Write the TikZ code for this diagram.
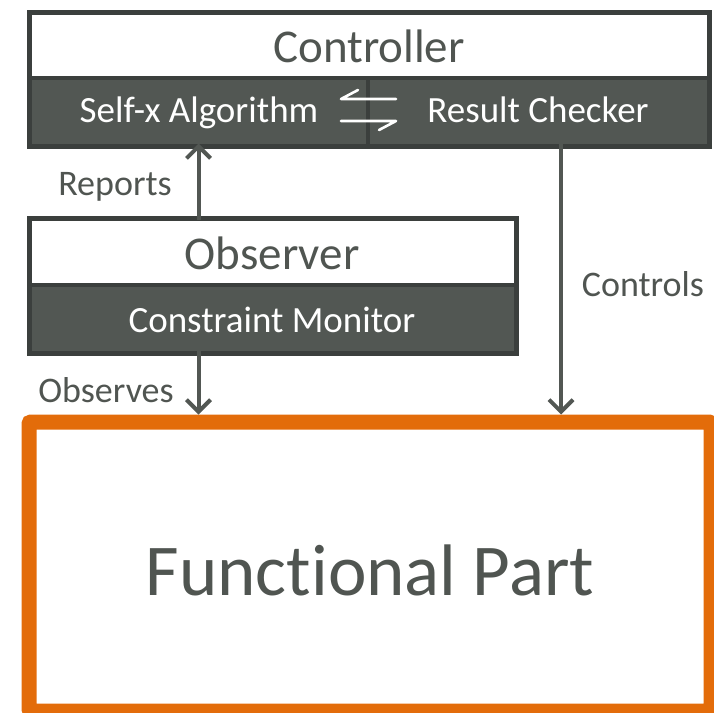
\documentclass[tikz,border=0pt]{standalone}
\usepackage{fontspec}
\setmainfont{Carlito}[Ligatures=NoCommon]
\usetikzlibrary{arrows.meta}

\definecolor{bandgray}{RGB}{82,87,83}
\definecolor{edgegray}{RGB}{59,63,61}
\definecolor{inkgray}{RGB}{80,85,81}
\definecolor{fporange}{RGB}{227,108,10}

\tikzset{
  part/.style={rectangle, inner sep=0pt, outer sep=0pt, draw=edgegray, line width=3.5pt},
  titlepart/.style={part, fill=white},
  bandpart/.style={part, fill=bandgray},
  titletext/.style={text=inkgray, font=\fontsize{47}{56}\selectfont, inner sep=0pt},
  bandtext/.style={text=white, font=\fontsize{37}{44}\selectfont, inner sep=0pt, anchor=base},
  frame/.style={draw=edgegray, line width=5pt},
  flow/.style={draw=bandgray, line width=4pt, -{Straight Barb[length=12pt, width=24pt, line width=4pt]}},
  flowlabel/.style={text=inkgray, font=\fontsize{36}{43}\selectfont, inner sep=0pt, anchor=base},
  swap/.style={draw=white, line width=2.6pt, line cap=round, line join=round},
  fpframe/.style={draw=fporange, line width=15pt, rounded corners=2pt},
}

\begin{document}
\begin{tikzpicture}[x=1pt, y=-1pt]
\useasboundingbox (0,0) rectangle (714,712);

% Controller: title band with two sub-blocks below
\node[titlepart, minimum width=680pt, minimum height=66pt, anchor=north west] (ctrl) at (29,12) {};
\node[titletext] (ctrltext) at (369,46) {Controller};
\node[bandpart, minimum width=339pt, minimum height=68pt, anchor=north west] (selfx) at (29,78) {};
\node[bandpart, minimum width=341pt, minimum height=68pt, anchor=north west] (checker) at (368,78) {};
\node[bandtext] (selfxtext) at (199,122.5) {Self-x Algorithm};
\node[bandtext] (checkertext) at (538,122.5) {Result Checker};
\draw[frame] (ctrl.north west) rectangle (checker.south east);

% exchange harpoons between the two sub-blocks
\coordinate (swapL) at (341,99);
\coordinate (swapR) at (396,121);
\draw[swap] ([shift={(17,-9)}]swapL) -- (swapL) -- (swapL -| swapR);
\draw[swap] (swapL |- swapR) -- (swapR) -- ([shift={(-17,9)}]swapR);

% Observer
\node[titlepart, minimum width=487pt, minimum height=67pt, anchor=north west] (obs) at (29,218) {};
\node[titletext] (obstext) at (272,253) {Observer};
\node[bandpart, minimum width=487pt, minimum height=68pt, anchor=north west] (mon) at (29,285) {};
\node[bandtext] (montext) at (272,332) {Constraint Monitor};
\draw[frame] (obs.north west) rectangle (mon.south east);

% Functional part
\node[rectangle, minimum width=682pt, minimum height=289pt, anchor=north west, inner sep=0pt, outer sep=0pt] (fp) at (29,422) {};
\draw[fpframe] (fp.north west) rectangle (fp.south east);
\node[text=inkgray, font=\fontsize{73}{88}\selectfont, inner sep=0pt] (fptext) at (370,570) {Functional Part};

% connectors
\coordinate (repFrom) at (selfx.south |- obs.north);
\coordinate (obsFrom) at (selfx.south |- mon.south);
\coordinate (ctlFrom) at (561,146);
\draw[flow] ([yshift=-2pt]repFrom) -- ([yshift=2.5pt]selfx.south);
\draw[flow] ([yshift=2.5pt]obsFrom) -- (obsFrom |- 0,414.5);
\draw[flow] ([yshift=2.5pt]ctlFrom) -- (ctlFrom |- 0,414.5);

\node[flowlabel] (reports) at (115,195) {Reports};
\node[flowlabel] (observes) at (106,402) {Observes};
\node[flowlabel] (controls) at (643,296) {Controls};
\end{tikzpicture}
\end{document}
